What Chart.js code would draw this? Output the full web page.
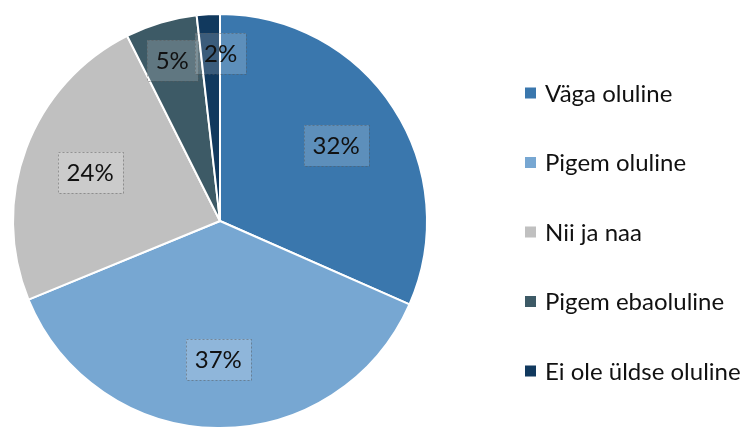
<!DOCTYPE html>
<html>
<head>
<meta charset="utf-8">
<script src="https://cdn.jsdelivr.net/npm/chart.js@4/dist/chart.umd.min.js"></script>
<style>
  html, body { margin: 0; padding: 0; background: #fff; }
  #wrap { width: 747px; height: 429px; }
</style>
</head>
<body>
<div id="wrap"><canvas id="myPie" width="747" height="429"></canvas></div>
<script>
// data
var categories = ['Väga oluline', 'Pigem oluline', 'Nii ja naa', 'Pigem ebaoluline', 'Ei ole üldse oluline'];
var shares = [31.6, 37.2, 23.8, 5.6, 1.8];
var shareLabels = ['32%', '37%', '24%', '5%', '2%'];
var sliceColors = ['#3a77ad', '#77a7d2', '#c0c0c0', '#3d5a66', '#11395e'];

var FONT = 'Lato, "Open Sans", sans-serif';

// percent boxes drawn on top of the slices
var boxLabels = {
  id: 'boxLabels',
  afterDatasetsDraw: function(chart) {
    var ctx = chart.ctx;
    var arcs = chart.getDatasetMeta(0).data;
    ctx.save();
    ctx.font = '24px ' + FONT;
    ctx.textAlign = 'center';
    ctx.textBaseline = 'middle';
    arcs.forEach(function(arc, i) {
      var p = arc.getProps(['x', 'y', 'startAngle', 'endAngle', 'outerRadius']);
      var span = p.endAngle - p.startAngle;
      var mid = (p.startAngle + p.endAngle) / 2;
      var f = span < 0.5 ? 0.81 : 0.67;
      if (span < 0.15) mid += 0.06; // tiny slice label nudged right, like the original
      var cx = p.x + Math.cos(mid) * p.outerRadius * f;
      var cy = p.y + Math.sin(mid) * p.outerRadius * f;
      var txt = shareLabels[i];
      var w = Math.round(ctx.measureText(txt).width + 18);
      var h = 41;
      var bx = Math.round(cx - w / 2), by = Math.round(cy - h / 2);
      ctx.fillStyle = 'rgba(255,255,255,0.18)';
      ctx.fillRect(bx, by, w, h);
      ctx.setLineDash([2, 2]);
      ctx.strokeStyle = 'rgba(90,90,90,0.5)';
      ctx.lineWidth = 1;
      ctx.strokeRect(bx + 0.5, by + 0.5, w, h);
      ctx.setLineDash([]);
      ctx.fillStyle = '#111';
      ctx.fillText(txt, cx, cy + 1);
    });
    ctx.restore();
  }
};

// legend on the right side
var sideLegend = {
  id: 'sideLegend',
  afterDraw: function(chart) {
    var ctx = chart.ctx;
    var x = 525, top = 93, gap = 69.5;
    ctx.save();
    ctx.font = '24px ' + FONT;
    ctx.textAlign = 'left';
    ctx.textBaseline = 'middle';
    chart.data.labels.forEach(function(lab, i) {
      var y = top + i * gap;
      ctx.fillStyle = chart.data.datasets[0].backgroundColor[i];
      ctx.fillRect(x, y - 5.5, 11, 11);
      ctx.fillStyle = '#111';
      ctx.fillText(lab, x + 20, y + 1);
    });
    ctx.restore();
  }
};

document.addEventListener('DOMContentLoaded', function() {
  var ctx = document.getElementById('myPie').getContext('2d');
  var myPie = new Chart(ctx, {
    type: 'pie',
    data: {
      labels: categories,
      datasets: [{
        data: shares,
        backgroundColor: sliceColors,
        borderColor: '#ffffff',
        borderWidth: 2
      }]
    },
    options: {
      responsive: false,
      animation: false,
      layout: { padding: { left: 12, top: 13, right: 319, bottom: 0 } },
      plugins: {
        legend: { display: false },
        tooltip: { enabled: false }
      }
    },
    plugins: [boxLabels, sideLegend]
  });
});
</script>
</body>
</html>
